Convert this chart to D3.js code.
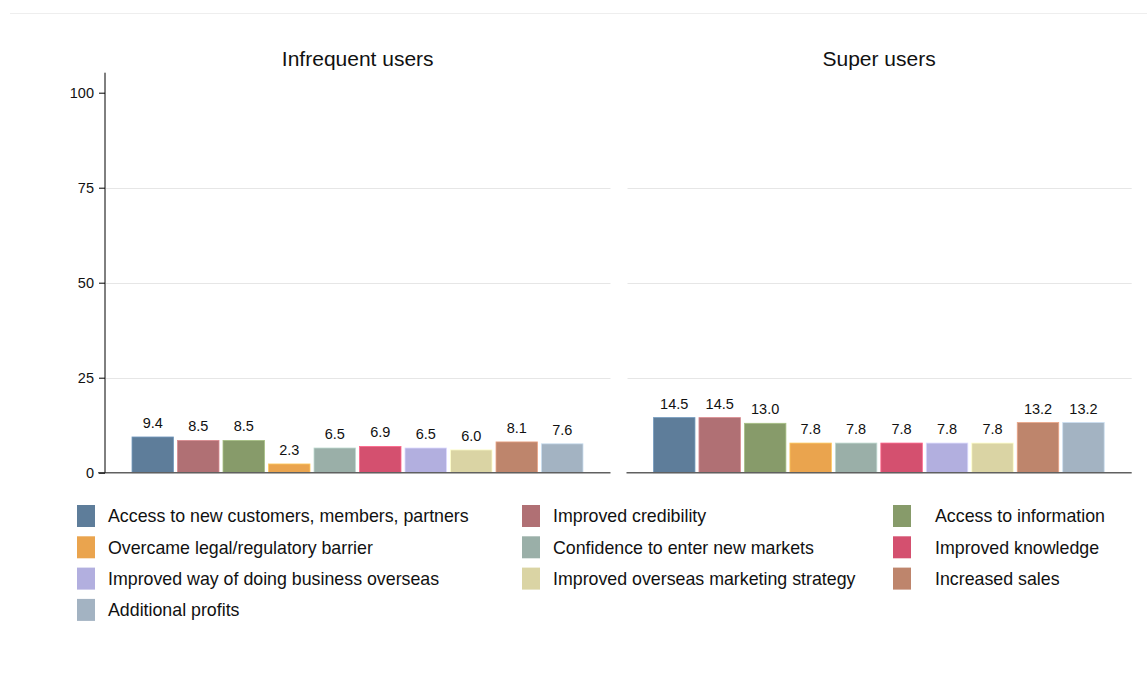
<!DOCTYPE html>
<html>
<head>
<meta charset="utf-8">
<script src="https://cdn.jsdelivr.net/npm/d3@7"></script>
<style>
  body { margin: 0; background: #fff; }
  text { font-family: "Liberation Sans", Arial, sans-serif; fill: #111; }
</style>
</head>
<body>
<div id="chart"></div>
<script>
const width = 1147;
const height = 675;

// data
const categories = [
  'Access to new customers, members, partners',
  'Improved credibility',
  'Access to information',
  'Overcame legal/regulatory barrier',
  'Confidence to enter new markets',
  'Improved knowledge',
  'Improved way of doing business overseas',
  'Improved overseas marketing strategy',
  'Increased sales',
  'Additional profits',
];
const colors = ['#5e7d9a', '#b07074', '#879b6a', '#eaa44e', '#9aafa8',
  '#d4506f', '#b2afdf', '#dad4a4', '#be856c', '#a3b3c2'];
const panels = ['Infrequent users', 'Super users'];
const infrequentValues = [9.4, 8.5, 8.5, 2.3, 6.5, 6.9, 6.5, 6.0, 8.1, 7.6];
const superValues = [14.5, 14.5, 13.0, 7.8, 7.8, 7.8, 7.8, 7.8, 13.2, 13.2];
const yTicks = [0, 25, 50, 75, 100];

const panelData = [infrequentValues, superValues];
const panelX = [[105, 610.5], [626.5, 1131.7]];

const svg = d3.select('#chart')
  .append('svg')
  .attr('width', width)
  .attr('height', height);

// faint frame line at top
svg.append('line')
  .attr('x1', 10).attr('x2', width)
  .attr('y1', 13.5).attr('y2', 13.5)
  .attr('stroke', '#eeeeee');

const y = d3.scaleLinear().domain([0, 100]).range([472.7, 92.7]);
const yTop = 72.7;

panelData.forEach((values, p) => {
  const [x0, x1] = panelX[p];
  const x = d3.scaleBand()
    .domain(d3.range(categories.length))
    .range([x0 + 27, x1 - 27.5])
    .paddingInner(0.088);

  const g = svg.append('g');

  // gridlines
  g.selectAll('.grid')
    .data(yTicks.filter(t => t > 0 && t < 100))
    .enter()
    .append('line')
    .attr('x1', x0 + 1).attr('x2', x1)
    .attr('y1', d => Math.round(y(d)) + 0.5)
    .attr('y2', d => Math.round(y(d)) + 0.5)
    .attr('stroke', '#e6e6e6');

  // title
  g.append('text')
    .attr('x', (x0 + x1) / 2)
    .attr('y', 65.5)
    .attr('text-anchor', 'middle')
    .style('font-size', '21px')
    .text(panels[p]);

  // bars
  g.selectAll('rect')
    .data(values)
    .enter()
    .append('rect')
    .attr('x', (d, i) => x(i))
    .attr('width', x.bandwidth())
    .attr('y', d => y(d))
    .attr('height', d => y(0) - y(d))
    .attr('fill', (d, i) => colors[i])
    .attr('stroke', (d, i) => d3.color(colors[i]).brighter(0.6))
    .attr('stroke-width', 0.8);

  // value labels
  g.selectAll('.val')
    .data(values)
    .enter()
    .append('text')
    .attr('x', (d, i) => x(i) + x.bandwidth() / 2)
    .attr('y', d => y(d) - 9)
    .attr('text-anchor', 'middle')
    .style('font-size', '14.5px')
    .text(d => d.toFixed(1));

  // baseline
  g.append('line')
    .attr('x1', p === 0 ? 98 : x0).attr('x2', x1)
    .attr('y1', y(0)).attr('y2', y(0))
    .attr('stroke', '#606060')
    .attr('stroke-width', 1.6);

  if (p === 0) {
    const yAxis = d3.axisLeft(y).tickValues(yTicks).tickSize(6).tickPadding(5);
    const ax = g.append('g')
      .attr('transform', `translate(${x0},0)`)
      .call(yAxis);
    ax.select('.domain').remove();
    ax.append('line')
      .attr('x1', 0).attr('x2', 0)
      .attr('y1', yTop).attr('y2', y(0))
      .attr('stroke', '#000');
    ax.selectAll('text').style('font-size', '14.5px').attr('fill', '#111')
      .style('font-family', '"Liberation Sans", Arial, sans-serif');
  }
});

// legend
const legendCols = [77, 522, 893];
const legendTextX = [108, 553, 935];
const legendRow0 = 516;
const legendRowStep = 31.3;

const legend = svg.append('g');
categories.forEach((c, i) => {
  const col = i % 3;
  const row = Math.floor(i / 3);
  const cy = legendRow0 + row * legendRowStep;
  legend.append('rect')
    .attr('x', legendCols[col])
    .attr('y', cy - 11)
    .attr('width', 18)
    .attr('height', 22)
    .attr('fill', colors[i]);
  legend.append('text')
    .attr('x', legendTextX[col])
    .attr('y', cy)
    .attr('dy', '0.35em')
    .style('font-size', '17.8px')
    .text(c);
});
</script>
</body>
</html>
